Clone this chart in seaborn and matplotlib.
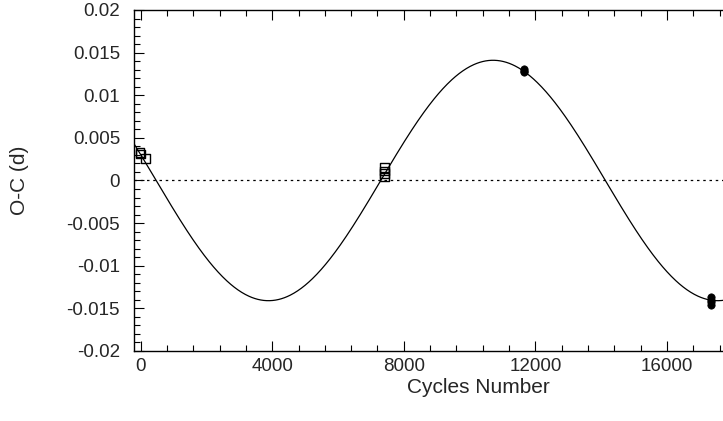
import numpy as np
import pandas as pd
import matplotlib
matplotlib.use("Agg")
import matplotlib.pyplot as plt
from matplotlib.ticker import MultipleLocator, FuncFormatter
import seaborn as sns

# observed minima, open squares (older) and filled circles (newer)
sq_cycles = [-20, 0, 140, 7420, 7420, 7420, 7420]
sq_oc = [0.0033, 0.0031, 0.0026, 0.0015, 0.0011, 0.0008, 0.0004]
dot_cycles = [11650, 11650, 11650, 17340, 17340, 17340, 17340]
dot_oc = [0.0131, 0.0129, 0.0127, -0.0137, -0.0140, -0.0143, -0.0146]

# fitted cyclic term (amplitude in d, period and zero epoch in cycles)
fit_amp = 0.0141
fit_period = 13650
fit_zero = 7300

x_ticks = [0, 4000, 8000, 12000, 16000]
y_ticks = [0.02, 0.015, 0.01, 0.005, 0, -0.005, -0.01, -0.015, -0.02]

sns.set_style("ticks")
plt.rcParams['font.family'] = ['Liberation Sans', 'DejaVu Sans']

fig = plt.figure(figsize=(7.23, 4.21), dpi=100)
ax = fig.add_axes([0.1853, 0.1663, 0.8147, 0.8100])

cyc = np.linspace(-200, 17700, 800)
curve = pd.DataFrame({"E": cyc,
                      "OC": fit_amp * np.sin(2 * np.pi * (cyc - fit_zero) / fit_period)})
sns.lineplot(data=curve, x="E", y="OC", ax=ax, color="black", lw=0.9)

ax.axhline(0, color="black", lw=0.9, ls=(0, (2, 3)))

sns.scatterplot(x=sq_cycles, y=sq_oc, ax=ax, marker="s", s=40,
                facecolor="none", edgecolor="black", linewidth=1.0, zorder=5)
sns.scatterplot(x=dot_cycles, y=dot_oc, ax=ax, marker="o", s=28,
                color="black", edgecolor="black", linewidth=0.5, zorder=5)

ax.set_xlim(-200, 17700)
ax.set_ylim(-0.02, 0.02)
ax.set_xticks(x_ticks)
ax.set_yticks(y_ticks)
ax.xaxis.set_minor_locator(MultipleLocator(800))
ax.yaxis.set_minor_locator(MultipleLocator(0.001))
ax.yaxis.set_major_formatter(FuncFormatter(lambda v, p: ("%g" % round(v, 4)).replace("\u2212", "-")))
ax.xaxis.set_major_formatter(FuncFormatter(lambda v, p: "%d" % v))

ax.tick_params(which="both", direction="in", top=True, right=False,
               labelsize=13.5, width=0.8, color="black")
ax.tick_params(axis="y", pad=10)
ax.tick_params(axis="x", pad=5)
ax.tick_params(which="major", length=7)
ax.tick_params(which="minor", length=4)
for side in ["left", "bottom", "top"]:
    ax.spines[side].set_visible(True)
    ax.spines[side].set_linewidth(1.0)
    ax.spines[side].set_color("black")
ax.spines["right"].set_visible(False)

ax.set_xlabel("Cycles Number", fontsize=15)
ax.set_ylabel("O-C (d)", fontsize=15)
ax.xaxis.label.set_va("baseline")
ax.yaxis.label.set_va("center")
ax.xaxis.set_label_coords(0.584, -0.1232)
ax.yaxis.set_label_coords(-0.1935, 0.5)

fig.savefig("out.png", dpi=100)
